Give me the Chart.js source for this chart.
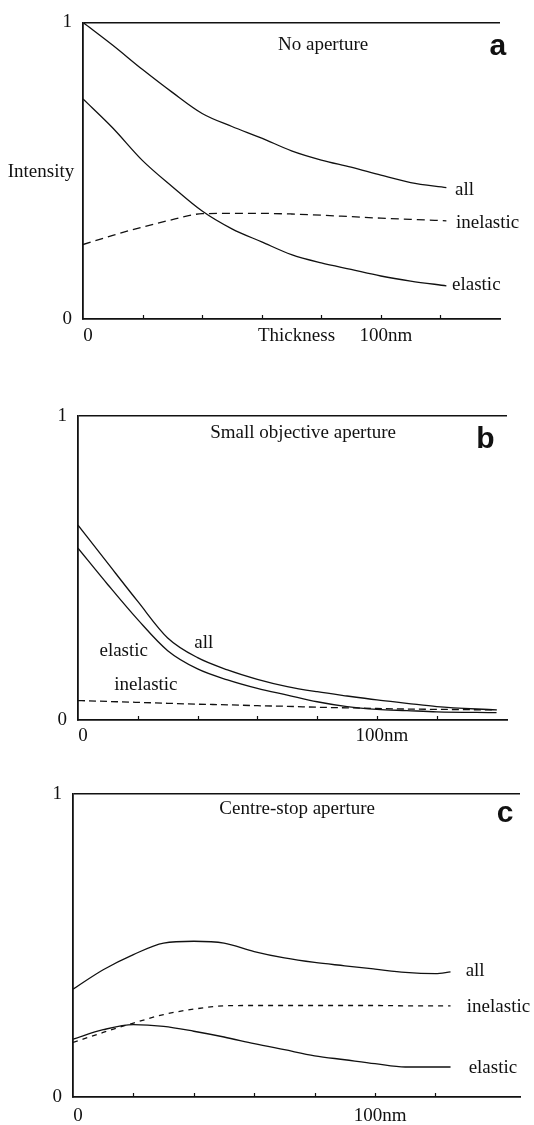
<!DOCTYPE html>
<html>
<head>
<meta charset="utf-8">
<script src="https://cdn.jsdelivr.net/npm/chart.js@4/dist/chart.umd.min.js"></script>
<style>
  html, body { margin: 0; padding: 0; background: #fff; }
  .panel { position: absolute; left: 0; width: 534px; }
</style>
</head>
<body>
<div class="panel" style="top:0;height:370px"><canvas id="chartA" width="534" height="370"></canvas></div>
<div class="panel" style="top:370px;height:380px"><canvas id="chartB" width="534" height="380"></canvas></div>
<div class="panel" style="top:750px;height:375px"><canvas id="chartC" width="534" height="375"></canvas></div>
<script>
    // --- data (thickness in nm, intensity 0..1) ---
    const thicknessA = [0, 10, 20, 30, 40, 50, 60, 70, 80, 90, 100, 110, 122];
    const allA       = [1.0, 0.923, 0.841, 0.764, 0.693, 0.649, 0.61, 0.567, 0.536, 0.512, 0.485, 0.46, 0.443];
    const elasticA   = [0.742, 0.644, 0.534, 0.446, 0.364, 0.304, 0.26, 0.217, 0.189, 0.167, 0.145, 0.128, 0.112];
    const inelasticA = [0.251, 0.282, 0.31, 0.335, 0.355, 0.356, 0.356, 0.354, 0.35, 0.345, 0.34, 0.336, 0.331];

    const thicknessB = [0, 10, 20, 30, 40, 50, 60, 70, 80, 90, 100, 110, 120, 140];
    const allB       = [0.641, 0.515, 0.39, 0.27, 0.205, 0.165, 0.134, 0.11, 0.093, 0.079, 0.066, 0.055, 0.044, 0.033];
    const elasticB   = [0.565, 0.445, 0.33, 0.228, 0.168, 0.132, 0.104, 0.082, 0.06, 0.044, 0.035, 0.031, 0.027, 0.024];
    const inelasticB = [0.064, 0.061, 0.058, 0.055, 0.052, 0.05, 0.047, 0.045, 0.042, 0.04, 0.038, 0.036, 0.035, 0.033];

    const thicknessC = [0, 10, 20, 30, 40, 50, 60, 70, 80, 90, 100, 110, 120, 125];
    const allC       = [0.356, 0.42, 0.47, 0.508, 0.514, 0.508, 0.48, 0.459, 0.444, 0.433, 0.422, 0.411, 0.407, 0.413];
    const elasticC   = [0.191, 0.222, 0.239, 0.233, 0.217, 0.198, 0.176, 0.156, 0.136, 0.123, 0.11, 0.099, 0.099, 0.099];
    const inelasticC = [0.18, 0.213, 0.244, 0.272, 0.29, 0.301, 0.302, 0.302, 0.302, 0.302, 0.302, 0.301, 0.301, 0.301];

    const seriesNames = ['all', 'elastic', 'inelastic'];
    const yTickLabels = ['0', '1'];
    const xTickLabels = { 0: '0', 100: '100nm' };
    const xTickMarks = [20, 40, 60, 80, 100, 120];

    const INK = '#111';
    const SERIF = '19px "Liberation Serif", "DejaVu Serif", serif';
    const LETTER = 'bold 30px "Liberation Sans", Arial, sans-serif';

    /**
     * Draws the in-plot texts and the small inward tick marks
     */
    const panelText = {
        id: 'panelText',
        afterDraw(chart, args, opts) {
            const ctx = chart.ctx;
            const x = chart.scales.x;
            const y = chart.scales.y;
            ctx.save();
            ctx.fillStyle = INK;
            ctx.strokeStyle = INK;
            ctx.textBaseline = 'alphabetic';
            (opts.labels || []).forEach(function(l) {
                ctx.font = l.font || SERIF;
                ctx.textAlign = l.align || 'left';
                ctx.fillText(l.text, x.getPixelForValue(l.x), y.getPixelForValue(l.y));
            });
            // short ticks pointing up into the plot every 20nm
            ctx.lineWidth = 1.2;
            const bottom = chart.chartArea.bottom;
            xTickMarks.forEach(function(v) {
                const px = Math.round(x.getPixelForValue(v)) + 0.5;
                ctx.beginPath();
                ctx.moveTo(px, bottom);
                ctx.lineTo(px, bottom - 4);
                ctx.stroke();
            });
            ctx.restore();
        }
    };

    function points(xs, ys) {
        return xs.map(function(v, i) { return { x: v, y: ys[i] }; });
    }

    function makePanel(id, xs, all, elastic, inelastic, geo, labels, extraTicks) {
        const line = { borderColor: INK, borderWidth: 1.3, pointRadius: 0, fill: false, cubicInterpolationMode: 'monotone' };
        new Chart(document.getElementById(id), {
            type: 'line',
            data: {
                datasets: [
                    Object.assign({ label: seriesNames[0], data: points(xs, all) }, line),
                    Object.assign({ label: seriesNames[1], data: points(xs, elastic) }, line),
                    Object.assign({ label: seriesNames[2], data: points(xs, inelastic), borderDash: geo.dash }, line)
                ]
            },
            options: {
                responsive: false,
                animation: false,
                devicePixelRatio: 1,
                layout: { padding: { left: 0, right: geo.right, top: geo.top, bottom: 0 } },
                plugins: {
                    legend: { display: false },
                    tooltip: { enabled: false },
                    panelText: { labels: labels }
                },
                scales: {
                    x: {
                        type: 'linear',
                        min: 0,
                        max: geo.xMax,
                        afterFit: function(s) { s.height = geo.xHeight; },
                        border: { display: true, color: INK, width: 1.8 },
                        grid: { display: false, drawTicks: false },
                        ticks: {
                            stepSize: 10,
                            autoSkip: false,
                            maxRotation: 0,
                            padding: geo.xPad,
                            labelOffset: 5,
                            color: INK,
                            font: { family: '"Liberation Serif", serif', size: 19 },
                            callback: function(v) {
                                if (xTickLabels[v] !== undefined) return xTickLabels[v];
                                if (extraTicks && extraTicks[v] !== undefined) return extraTicks[v];
                                return '';
                            }
                        }
                    },
                    y: {
                        min: 0,
                        max: 1,
                        afterFit: function(s) { s.width = geo.yWidth; },
                        border: { display: true, color: INK, width: 1.8 },
                        grid: {
                            drawTicks: false,
                            lineWidth: 1.5,
                            color: function(c) { return c.tick && c.tick.value === 1 ? INK : 'rgba(0,0,0,0)'; }
                        },
                        ticks: {
                            stepSize: 1,
                            padding: 11,
                            color: INK,
                            font: { family: '"Liberation Serif", serif', size: 19 },
                            callback: function(v) { return yTickLabels[v]; }
                        }
                    }
                }
            },
            plugins: [panelText]
        });
    }

    makePanel('chartA', thicknessA, allA, elasticA, inelasticA,
        { top: 15, right: 34, yWidth: 83, xHeight: 51, xMax: 140, xPad: 6, dash: [8, 5] },
        [
            { text: 'No aperture', x: 80.6, y: 0.908, align: 'center' },
            { text: 'a', x: 139.3, y: 0.891, align: 'center', font: LETTER },
            { text: 'Intensity', x: -14.1, y: 0.479, align: 'center' },
            { text: 'all', x: 124.9, y: 0.419 },
            { text: 'inelastic', x: 125.2, y: 0.306 },
            { text: 'elastic', x: 123.9, y: 0.099 }
        ],
        { 70: 'Thickness' });

    makePanel('chartB', thicknessB, allB, elasticB, inelasticB,
        { top: 46, right: 27, yWidth: 78, xHeight: 30, xMax: 143.5, xPad: 5, dash: [7, 4] },
        [
            { text: 'Small objective aperture', x: 75.3, y: 0.927, align: 'center' },
            { text: 'b', x: 136.3, y: 0.894, align: 'center', font: LETTER },
            { text: 'elastic', x: 15.3, y: 0.211, align: 'center' },
            { text: 'all', x: 42.1, y: 0.236, align: 'center' },
            { text: 'inelastic', x: 22.7, y: 0.099, align: 'center' }
        ]);

    makePanel('chartC', thicknessC, allC, elasticC, inelasticC,
        { top: 44, right: 14, yWidth: 73, xHeight: 28, xMax: 148, xPad: 8, dash: [5, 5] },
        [
            { text: 'Centre-stop aperture', x: 74.2, y: 0.934, align: 'center' },
            { text: 'c', x: 143.1, y: 0.909, align: 'center', font: LETTER },
            { text: 'all', x: 130, y: 0.398 },
            { text: 'inelastic', x: 130.4, y: 0.282 },
            { text: 'elastic', x: 131, y: 0.078 }
        ]);
</script>
</body>
</html>
